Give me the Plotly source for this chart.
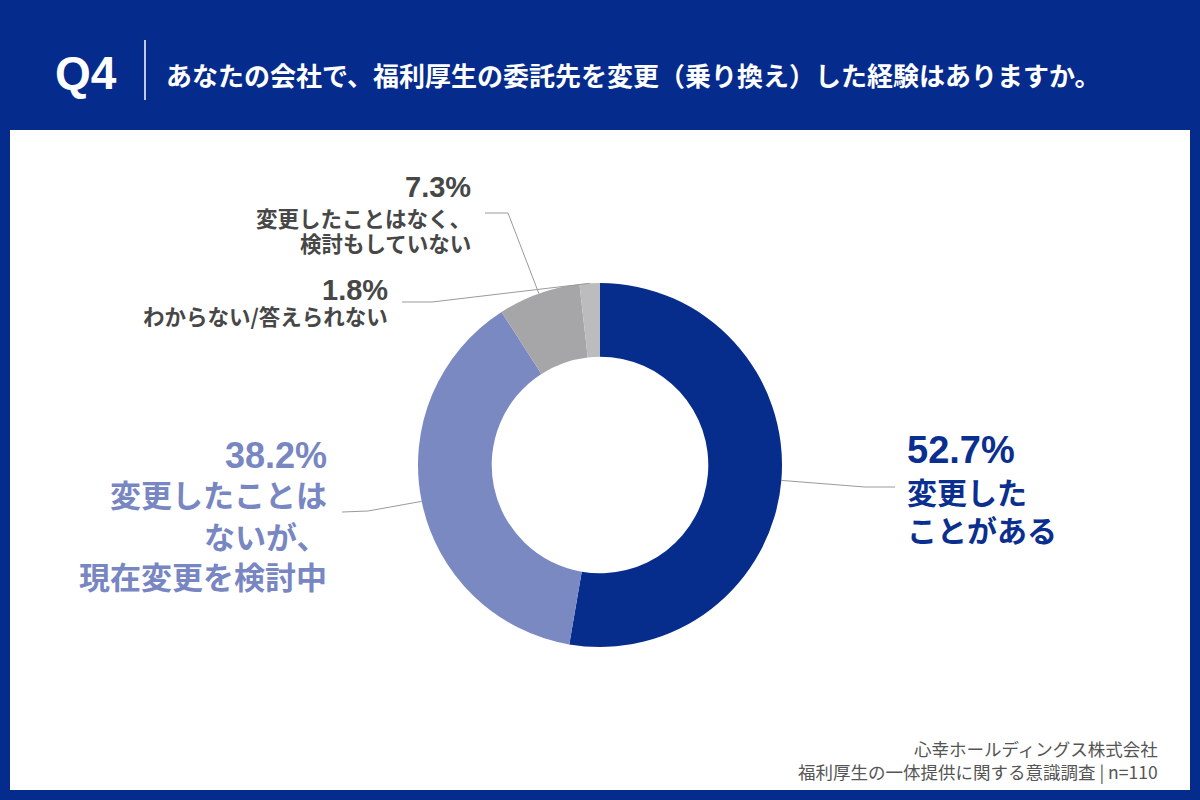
import math
import plotly.graph_objects as go

# ---- data ----
categories = [
    "変更したことがある",
    "変更したことはないが、現在変更を検討中",
    "変更したことはなく、検討もしていない",
    "わからない/答えられない",
]
values = [52.7, 38.2, 7.3, 1.8]
label_lines = [
    ["変更した", "ことがある"],
    ["変更したことは", "ないが、", "現在変更を検討中"],
    ["変更したことはなく、", "検討もしていない"],
    ["わからない/答えられない"],
]
slice_colors = ["#062c8c", "#7b89c3", "#a6a6a8", "#bcbcbe"]
text_colors = ["#0b2f8f", "#7886c2", "#474747", "#474747"]

title_q = "Q4"
title_text = "あなたの会社で、福利厚生の委託先を変更（乗り換え）した経験はありますか。"
footer_lines = ["心幸ホールディングス株式会社", "福利厚生の一体提供に関する意識調査 | n=110"]

W, H = 1200, 800
NAVY = "#052b8d"
JP = "Noto Sans CJK JP"
LAT = "Liberation Sans, Noto Sans CJK JP"


def px(x):
    return x / W


def py(y):
    return 1 - y / H


# donut geometry (pixels)
CX, CY, R = 600, 465, 182

fig = go.Figure()
fig.add_trace(go.Pie(
    labels=categories,
    values=values,
    hole=0.595,
    sort=False,
    direction="clockwise",
    rotation=0,
    marker=dict(colors=slice_colors, line=dict(width=0)),
    textinfo="none",
    hoverinfo="skip",
    showlegend=False,
    domain=dict(x=[px(CX - R), px(CX + R)], y=[py(CY + R), py(CY - R)]),
))

shapes = []
annotations = []

# white panel
shapes.append(dict(type="rect", xref="paper", yref="paper",
                   x0=px(10), x1=px(1190), y0=py(790), y1=py(130),
                   fillcolor="white", line=dict(width=0), layer="below"))
# header separator
shapes.append(dict(type="line", xref="paper", yref="paper",
                   x0=px(145), x1=px(145), y0=py(40), y1=py(100),
                   line=dict(color="white", width=1.5)))

annotations.append(dict(text="<b>" + title_q + "</b>", xref="paper", yref="paper",
                        x=px(53), y=py(73), xanchor="left", yanchor="middle",
                        showarrow=False, font=dict(family=LAT, size=46, color="white")))
annotations.append(dict(text="<b>" + title_text + "</b>", xref="paper", yref="paper",
                        x=px(164), y=py(74), xanchor="left", yanchor="middle",
                        showarrow=False, font=dict(family=JP, size=26, color="white")))

# leader line anchor points from slice mid-angles
cum = 0
total = sum(values)
starts = []
for v in values:
    mid = (cum + v / 2) / total * 2 * math.pi
    starts.append((CX + R * math.sin(mid), CY - R * math.cos(mid)))
    cum += v

# label layout
layout_spec = [
    dict(pts=[(865, 487), (895, 487)], x=905, anchor="left", pct_y=450, pct_size=38,
         line_y=[491, 529], line_size=30),
    dict(pts=[(368, 511), (342, 512)], x=329, anchor="right", pct_y=455, pct_size=36,
         line_y=[493, 535, 575], line_size=31),
    dict(pts=[(508, 213), (485, 213)], x=473, anchor="right", pct_y=187, pct_size=29,
         line_y=[218, 242], line_size=21.5),
    dict(pts=[(432, 302), (402, 302)], x=390, anchor="right", pct_y=290, pct_size=29,
         line_y=[315], line_size=21.5),
]

for i, spec in enumerate(layout_spec):
    pts = [starts[i]] + spec["pts"]
    path = "M " + " L ".join(f"{px(x):.5f},{py(y):.5f}" for x, y in pts)
    shapes.append(dict(type="path", xref="paper", yref="paper", path=path,
                       line=dict(color="#9a9a9a", width=1)))
    annotations.append(dict(text=f"<b>{values[i]:.1f}%</b>", xref="paper", yref="paper",
                            x=px(spec["x"]), y=py(spec["pct_y"]), xanchor=spec["anchor"],
                            yanchor="middle", showarrow=False,
                            font=dict(family=LAT, size=spec["pct_size"], color=text_colors[i])))
    for txt, ly in zip(label_lines[i], spec["line_y"]):
        annotations.append(dict(text=f"<b>{txt}</b>", xref="paper", yref="paper",
                                x=px(spec["x"]), y=py(ly), xanchor=spec["anchor"],
                                yanchor="middle", showarrow=False,
                                font=dict(family=JP, size=spec["line_size"], color=text_colors[i])))

for txt, ly in zip(footer_lines, [748, 771]):
    annotations.append(dict(text=txt, xref="paper", yref="paper",
                            x=px(1160), y=py(ly), xanchor="right", yanchor="middle",
                            showarrow=False, font=dict(family=JP, size=17.5, color="#555555")))

fig.update_layout(
    width=W, height=H,
    margin=dict(l=0, r=0, t=0, b=0),
    paper_bgcolor=NAVY,
    plot_bgcolor=NAVY,
    shapes=shapes,
    annotations=annotations,
    showlegend=False,
)

fig.write_html("out.html", config={"displayModeBar": False})
